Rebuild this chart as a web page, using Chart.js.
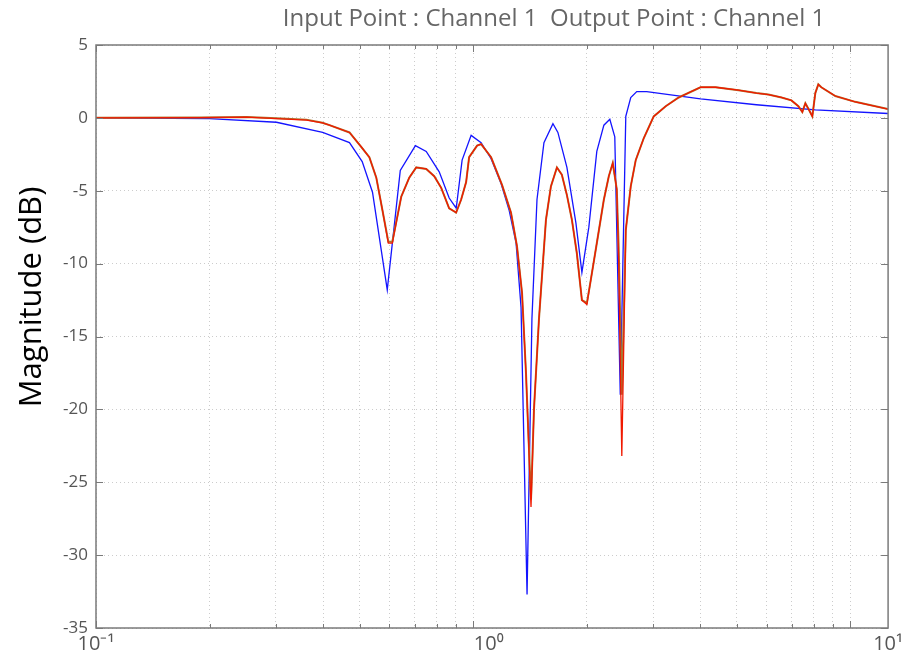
<!DOCTYPE html>
<html>
<head>
<meta charset="utf-8">
<script src="https://cdn.jsdelivr.net/npm/chart.js@4"></script>
<style>
  html, body { margin: 0; padding: 0; background: #fff; }
  #wrap { width: 907px; height: 662px; }
</style>
</head>
<body>
<div id="wrap"><canvas id="chart" width="907" height="662"></canvas></div>
<script>
'use strict';

// blue trace
const blueFreq = [0.1, 0.2, 0.301, 0.399, 0.470, 0.508, 0.541, 0.592, 0.641, 0.703,
  0.751, 0.813, 0.864, 0.902, 0.935, 0.988, 1.050, 1.116, 1.186, 1.245,
  1.300, 1.340, 1.390, 1.432, 1.477, 1.541, 1.628, 1.678, 1.773, 1.873,
  1.943, 2.027, 2.128, 2.222, 2.304, 2.375, 2.456, 2.540, 2.618, 2.716,
  2.886, 4.010, 5.640, 8.080, 12.6];
const blueDb = [0, -0.05, -0.3, -1.0, -1.7, -3.0, -5.1, -11.8, -3.6, -1.9,
  -2.3, -3.7, -5.5, -6.2, -2.9, -1.2, -1.7, -2.8, -4.5, -6.3,
  -8.6, -13.0, -32.7, -13.8, -5.6, -1.7, -0.4, -1.0, -3.4, -7.2,
  -10.6, -7.5, -2.3, -0.5, -0.1, -1.3, -19.0, 0.1, 1.4, 1.8,
  1.8, 1.3, 0.9, 0.55, 0.3];

// red trace and the brown one under it share the same frequencies
const redFreq = [0.1, 0.1884, 0.2508, 0.3012, 0.3616, 0.3986, 0.416, 0.470, 0.5055, 0.5307,
  0.5537, 0.5745, 0.5959, 0.6106, 0.6449, 0.6771, 0.7066, 0.7510, 0.7886, 0.8229,
  0.8639, 0.9016, 0.9296, 0.9583, 0.9759, 1.0247, 1.050, 1.116, 1.193, 1.260,
  1.307, 1.348, 1.381, 1.424, 1.450, 1.495, 1.560, 1.608, 1.668, 1.719,
  1.773, 1.828, 1.884, 1.943, 2.003, 2.052, 2.128, 2.222, 2.290, 2.346,
  2.404, 2.433, 2.479, 2.540, 2.618, 2.699, 2.834, 3.012, 3.241, 3.508,
  4.010, 4.395, 5.054, 5.640, 6.069, 6.569, 6.983, 7.287, 7.464, 7.603,
  7.790, 7.934, 8.080, 8.229, 8.381, 9.128, 10.31, 12.6];
const redDb = [0, 0.02, 0.05, -0.05, -0.15, -0.35, -0.5, -1.0, -2.0, -2.7,
  -4.1, -6.3, -8.6, -8.6, -5.4, -4.1, -3.4, -3.5, -4.0, -4.8,
  -6.2, -6.5, -5.6, -4.4, -2.7, -1.9, -1.8, -2.7, -4.6, -6.5,
  -8.8, -12.0, -17.5, -26.7, -20.0, -13.8, -7.0, -4.7, -3.4, -3.9,
  -5.3, -7.0, -9.3, -12.5, -12.8, -11.1, -8.6, -5.6, -4.0, -3.1,
  -4.9, -10.0, -23.2, -7.7, -4.7, -2.9, -1.4, 0.1, 0.8, 1.4,
  2.1, 2.1, 1.9, 1.7, 1.6, 1.4, 1.2, 0.8, 0.4, 1.0,
  0.5, 0.1, 1.7, 2.3, 2.1, 1.5, 1.1, 0.6];
const brownDb = [0, 0.03, 0.06, -0.03, -0.12, -0.33, -0.5, -1.0, -2.0, -2.7,
  -4.1, -6.3, -8.5, -8.5, -5.4, -4.1, -3.4, -3.5, -4.0, -4.8,
  -6.2, -6.5, -5.6, -4.4, -2.7, -1.9, -1.8, -2.7, -4.6, -6.5,
  -8.8, -12.0, -17.5, -26.2, -20.0, -13.8, -7.0, -4.7, -3.4, -3.9,
  -5.3, -7.0, -9.3, -12.5, -12.7, -11.1, -8.6, -5.6, -4.0, -3.1,
  -4.9, -9.0, -19.0, -7.7, -4.7, -2.9, -1.4, 0.1, 0.8, 1.4,
  2.1, 2.1, 1.9, 1.7, 1.6, 1.4, 1.2, 0.8, 0.4, 1.0,
  0.5, 0.1, 1.7, 2.3, 2.1, 1.5, 1.1, 0.6];

const gridFreqs = [0.1, 0.2, 0.3, 0.4, 0.5, 0.6, 0.7, 0.8, 0.9,
  1, 2, 3, 4, 5, 6, 7, 8, 9, 10];
const majorFreqs = [0.1, 1, 10];
const labelFreqs = [0.1, 1.1, 12.6];
const labelText = ['10\u207B\u00B9', '10\u2070', '10\u00B9'];
const yTicks = [5, 0, -5, -10, -15, -20, -25, -30, -35];

const titleText = 'Input Point : Channel 1  Output Point : Channel 1';
const yTitleText = 'Magnitude (dB)';

function toPoints(xs, ys) {
  return xs.map((x, i) => ({ x: x, y: ys[i] }));
}

const gridColor = 'rgba(0,0,0,0.2)';

// box round the plot, short inward ticks, and the two titles
const boxPlugin = {
  id: 'box',
  afterDraw(chart) {
    const ctx = chart.ctx;
    const a = chart.chartArea;
    const xs = chart.scales.x;
    const ys = chart.scales.y;
    ctx.save();
    ctx.strokeStyle = '#7a7a7a';
    ctx.lineWidth = 1;
    ctx.beginPath();
    gridFreqs.forEach(f => {
      const px = Math.round(xs.getPixelForValue(f)) + 0.5;
      const len = majorFreqs.includes(f) ? 7 : 4;
      ctx.moveTo(px, a.bottom); ctx.lineTo(px, a.bottom - len);
      ctx.moveTo(px, a.top); ctx.lineTo(px, a.top + len);
    });
    yTicks.forEach(v => {
      const py = Math.round(ys.getPixelForValue(v)) + 0.5;
      ctx.moveTo(a.left, py); ctx.lineTo(a.left + 7, py);
      ctx.moveTo(a.right, py); ctx.lineTo(a.right - 7, py);
    });
    ctx.stroke();
    ctx.lineWidth = 1.5;
    ctx.strokeRect(a.left, a.top, a.right - a.left, a.bottom - a.top);

    ctx.textAlign = 'center';
    ctx.textBaseline = 'middle';
    ctx.fillStyle = '#666';
    ctx.font = '24px "Open Sans"';
    ctx.fillText(titleText, 554, 19);

    ctx.translate(32, 297);
    ctx.rotate(-Math.PI / 2);
    ctx.fillStyle = '#000';
    ctx.font = '31px "Open Sans"';
    ctx.fillText(yTitleText, 0, 0);
    ctx.restore();
  }
};

const data = {
  datasets: [
    {
      label: 'red',
      data: toPoints(redFreq, redDb),
      borderColor: 'rgb(240,25,0)',
      borderWidth: 1.3,
      order: 1
    },
    {
      label: 'brown',
      data: toPoints(redFreq, brownDb),
      borderColor: 'rgb(170,120,50)',
      borderWidth: 2.0,
      order: 2
    },
    {
      label: 'blue',
      data: toPoints(blueFreq, blueDb),
      borderColor: 'rgb(20,20,255)',
      borderWidth: 1.3,
      order: 3
    }
  ]
};

const config = {
  type: 'line',
  data: data,
  options: {
    responsive: false,
    animation: false,
    elements: { point: { radius: 0 }, line: { tension: 0 } },
    layout: { padding: { left: 0, right: 17, top: 45, bottom: 0 } },
    plugins: {
      legend: { display: false },
      tooltip: { enabled: false },
      title: { display: false }
    },
    scales: {
      x: {
        type: 'logarithmic',
        min: 0.1,
        max: 12.6,
        afterBuildTicks(scale) {
          const vals = gridFreqs.concat([1.1, 12.6]);
          scale.ticks = vals.map(v => ({ value: v }));
        },
        afterFit(scale) { scale.height = 34; },
        ticks: {
          autoSkip: false,
          maxRotation: 0,
          padding: 4,
          color: '#555',
          font: { family: 'Open Sans', size: 20 },
          callback(value) {
            const i = labelFreqs.indexOf(value);
            return i >= 0 ? labelText[i] : '';
          }
        },
        grid: {
          drawTicks: false,
          color(ctx) {
            const v = ctx.tick ? ctx.tick.value : null;
            return gridFreqs.includes(v) ? gridColor : 'rgba(0,0,0,0)';
          }
        },
        border: { display: false, dash: [1, 3] }
      },
      y: {
        min: -35,
        max: 5,
        afterFit(scale) { scale.width = 96; },
        ticks: {
          stepSize: 5,
          padding: 8,
          color: '#555',
          font: { family: 'Open Sans', size: 17 }
        },
        grid: { drawTicks: false, color: gridColor },
        border: { display: false, dash: [1, 3] }
      }
    }
  },
  plugins: [boxPlugin]
};

new Chart(document.getElementById('chart'), config);
</script>
</body>
</html>
